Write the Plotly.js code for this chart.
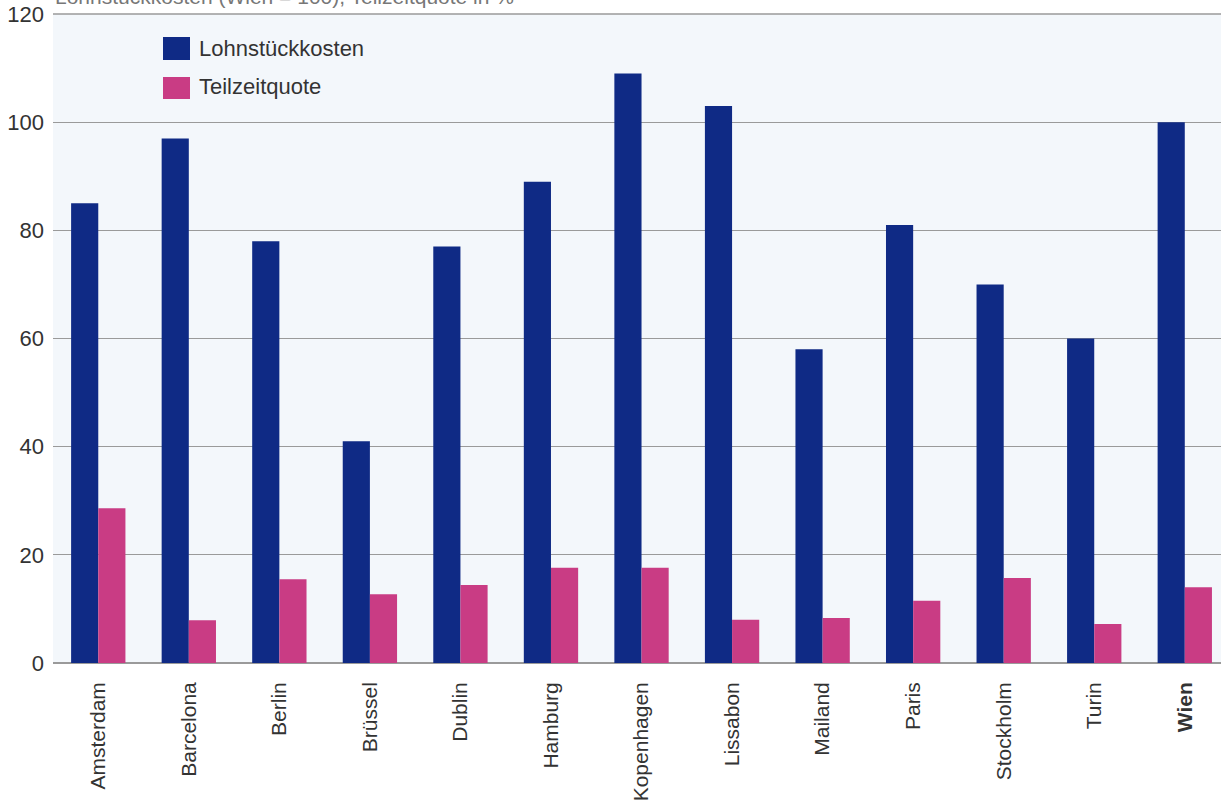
<!DOCTYPE html>
<html>
<head>
<meta charset="utf-8">
<script src="https://cdn.plot.ly/plotly-3.0.1.min.js"></script>
<style>html,body{margin:0;padding:0;background:#fff;}#chart{width:1221px;height:805px;}</style>
</head>
<body>
<div id="chart"></div>
<script>
const cities = ["Amsterdam","Barcelona","Berlin","Brüssel","Dublin","Hamburg","Kopenhagen","Lissabon","Mailand","Paris","Stockholm","Turin","Wien"];
const lohnstueckkosten = [85,97,78,41,77,89,109,103,58,81,70,60,100];
const teilzeitquote = [28.6,7.9,15.5,12.7,14.4,17.6,17.6,8.0,8.3,11.5,15.7,7.2,14.0];
const seriesNames = ["Lohnstückkosten","Teilzeitquote"];
const yTicks = [0,20,40,60,80,100,120];
const titleText = "Lohnstückkosten (Wien = 100), Teilzeitquote in %";

const blue = "#0f2a85", pink = "#c93c84";
const tickText = cities.map(c => c === "Wien" ? "<b>" + c + "</b>" : c);

const traces = [
  {type:"bar", name:seriesNames[0], x:cities, y:lohnstueckkosten, marker:{color:blue}, showlegend:false, hoverinfo:"x+y"},
  {type:"bar", name:seriesNames[1], x:cities, y:teilzeitquote, marker:{color:pink}, showlegend:false, hoverinfo:"x+y"}
];

const font = {family:"Liberation Sans, Arial, sans-serif", size:21, color:"#333333"};
const bigFont = {family:"Liberation Sans, Arial, sans-serif", size:22, color:"#333333"};
const layout = {
  width:1221, height:805,
  margin:{l:53, r:0, t:14, b:142, pad:0},
  paper_bgcolor:"#ffffff",
  plot_bgcolor:"#f3f7fb",
  font:font,
  barmode:"group",
  bargap:0.4,
  bargroupgap:0,
  xaxis:{
    type:"category",
    categoryorder:"array", categoryarray:cities,
    tickvals:cities, ticktext:tickText,
    range:[-0.5, 12.4],
    tickangle:-90,
    ticks:"", ticklabelstandoff:14,
    showgrid:false, showline:false, zeroline:false,
    tickfont:font, fixedrange:true
  },
  yaxis:{
    range:[0,120],
    tickvals:yTicks,
    ticks:"", ticklabelstandoff:8,
    showgrid:true, gridcolor:"#9a9a9a", gridwidth:1,
    zeroline:true, zerolinecolor:"#9a9a9a", zerolinewidth:1.5,
    showline:false,
    tickfont:bigFont, fixedrange:true
  },
  shapes:[
    {type:"line", xref:"paper", yref:"paper", x0:0, x1:1, y0:1, y1:1, line:{color:"#9a9a9a", width:1.5}},
    {type:"rect", xref:"paper", yref:"paper", x0:(163-53)/1168, x1:(190-53)/1168, y0:(663-60)/649, y1:(663-37)/649, fillcolor:blue, line:{width:0}},
    {type:"rect", xref:"paper", yref:"paper", x0:(163-53)/1168, x1:(190-53)/1168, y0:(663-99)/649, y1:(663-77)/649, fillcolor:pink, line:{width:0}}
  ],
  annotations:[
    {xref:"paper", yref:"paper", x:(197-53)/1168, y:(663-48)/649, xanchor:"left", yanchor:"middle", text:seriesNames[0], showarrow:false, font:bigFont},
    {xref:"paper", yref:"paper", x:(197-53)/1168, y:(663-87)/649, xanchor:"left", yanchor:"middle", text:seriesNames[1], showarrow:false, font:bigFont},
    {xref:"paper", yref:"paper", x:0, y:1, xanchor:"left", yanchor:"bottom", yshift:4, text:titleText, showarrow:false, font:{family:"Liberation Sans, Arial, sans-serif", size:21, color:"#777777"}}
  ]
};

Plotly.newPlot("chart", traces, layout, {displayModeBar:false, staticPlot:true});
</script>
</body>
</html>
